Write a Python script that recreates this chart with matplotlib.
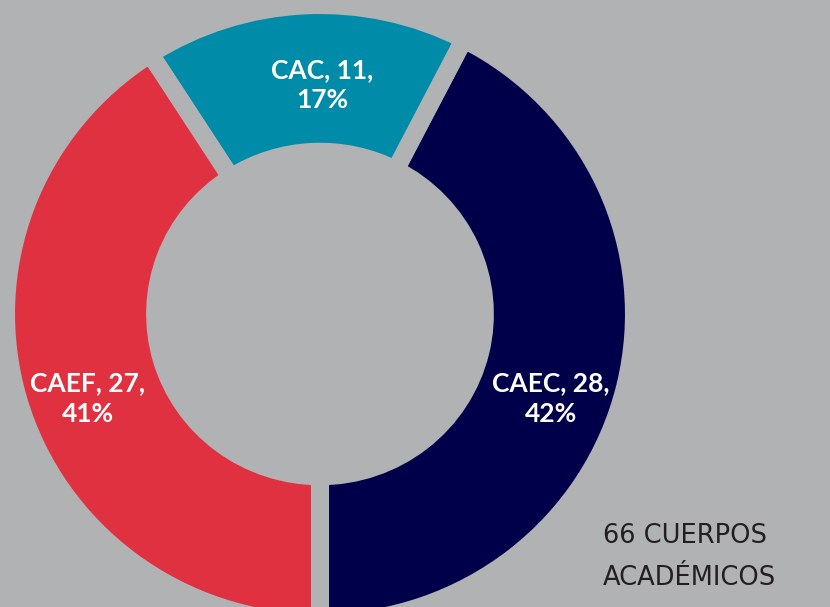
import matplotlib.pyplot as plt

labels = ['CAEC', 'CAC', 'CAEF']
counts = [28, 11, 27]
percents = [42, 17, 41]
colors = ['#00004A', '#008CA9', '#E03141']
bg = '#B1B2B4'

fig = plt.figure(figsize=(8.3, 6.07), dpi=100, facecolor=bg)
ax = fig.add_axes([0, 0, 1, 1])
ax.set_facecolor(bg)

ax.pie(counts, colors=colors, startangle=-90, counterclock=True,
       radius=1.0, wedgeprops=dict(width=0.475, edgecolor=bg, linewidth=13))

# the ring is very slightly wider than tall in the original
ax.set_aspect('auto')
ax.set_xlim(-320 / 314, 510 / 314)
ax.set_ylim(-293 / 309, 314 / 309)
ax.axis('off')

# label positions in figure fractions
label_pos = {'CAC': (0.388, 0.860), 'CAEF': (0.106, 0.343), 'CAEC': (0.664, 0.343)}
for name, n, p in zip(labels, counts, percents):
    x, y = label_pos[name]
    fig.text(x, y, f'{name}, {n},\n{p}%', ha='center', va='center',
             color='white', fontsize=19, fontweight='bold', family='Lato',
             linespacing=1.32)

fig.text(0.7265, 0.105, '66 CUERPOS', ha='left', va='baseline',
         color='#231F20', fontsize=18.5, family='DejaVu Sans')
fig.text(0.7265, 0.036, 'ACADÉMICOS', ha='left', va='baseline',
         color='#231F20', fontsize=18.5, family='DejaVu Sans')

fig.savefig('out.png', dpi=100, facecolor=bg)
